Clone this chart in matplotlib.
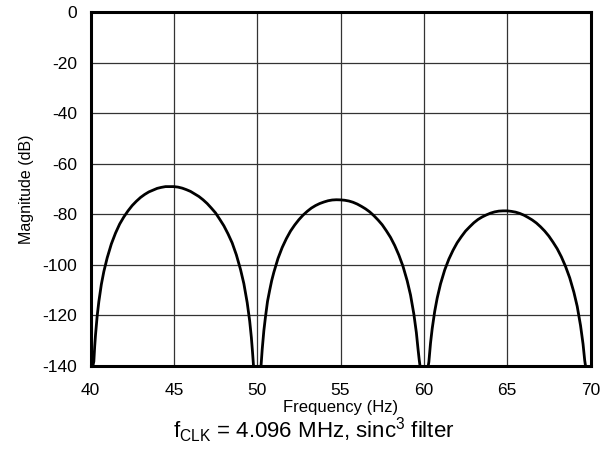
import matplotlib
matplotlib.use("Agg")
import matplotlib.pyplot as plt

plt.rcParams['font.family'] = ['Liberation Sans', 'DejaVu Sans']
plt.rcParams['mathtext.fontset'] = 'custom'
plt.rcParams['mathtext.rm'] = 'Liberation Sans'

# Lobe 1 (40-50 Hz)
lobe1_f = [40.14, 40.2, 40.25, 40.3, 40.4, 40.5, 40.65, 40.8, 41.0, 41.25, 41.5, 41.75,
           42.0, 42.25, 42.5, 42.75, 43.0, 43.25, 43.5, 43.75, 44.0, 44.25, 44.5, 44.75,
           45.0, 45.25, 45.5, 45.75, 46.0, 46.25, 46.5, 46.75, 47.0, 47.25, 47.5, 47.75,
           48.0, 48.25, 48.5, 48.75, 49.0, 49.2, 49.4, 49.55, 49.65, 49.72, 49.78]
lobe1_db = [-140, -138.2, -132.3, -127.7, -120.2, -114.5, -107.7, -102.6, -97.2, -91.7, -87.4, -83.8,
            -81.0, -78.6, -76.5, -74.8, -73.3, -72.1, -71.1, -70.4, -69.7, -69.3, -69.0, -69.0,
            -69.0, -69.2, -69.6, -70.2, -70.9, -71.9, -72.9, -74.2, -75.7, -77.5, -79.4, -81.9,
            -84.5, -87.7, -91.3, -96.0, -101.8, -107.4, -114.9, -122.2, -128.7, -134.5, -140]

# Lobe 2 (50-60 Hz)
lobe2_f = [50.23, 50.25, 50.3, 50.4, 50.5, 50.62, 50.75, 50.87, 51.0, 51.25, 51.5, 51.75,
           52.0, 52.25, 52.5, 52.75, 53.0, 53.25, 53.5, 53.75, 54.0, 54.25, 54.5, 54.75,
           55.0, 55.25, 55.5, 55.75, 56.0, 56.25, 56.5, 56.75, 57.0, 57.25, 57.5, 57.75,
           58.0, 58.25, 58.5, 58.75, 59.0, 59.2, 59.4, 59.55, 59.65, 59.72, 59.77]
lobe2_db = [-140, -138.2, -133.5, -126.0, -120.4, -114.4, -110.0, -106.2, -102.9, -97.4, -93.1, -89.6,
            -86.6, -84.2, -82.1, -80.3, -78.8, -77.5, -76.5, -75.7, -75.1, -74.6, -74.3, -74.2,
            -74.25, -74.4, -74.7, -75.2, -75.9, -76.8, -77.8, -79.0, -80.5, -82.2, -84.1, -86.5,
            -89.1, -92.3, -96.1, -100.6, -106.3, -111.9, -119.5, -126.8, -133.3, -137.5, -140]

# Lobe 3 (60-70 Hz)
lobe3_f = [60.26, 60.3, 60.4, 60.5, 60.65, 60.8, 61.0, 61.25, 61.5, 61.75,
           62.0, 62.25, 62.5, 62.75, 63.0, 63.25, 63.5, 63.75, 64.0, 64.25, 64.5, 64.75,
           65.0, 65.25, 65.5, 65.75, 66.0, 66.25, 66.5, 66.75, 67.0, 67.25, 67.5, 67.75,
           68.0, 68.25, 68.5, 68.75, 69.0, 69.2, 69.4, 69.55, 69.65, 69.7]
lobe3_db = [-140, -138.4, -130.9, -125.2, -118.4, -113.1, -107.5, -102.0, -97.7, -94.2,
            -91.2, -88.8, -86.6, -84.9, -83.3, -82.0, -81.0, -80.2, -79.5, -79.0, -78.7, -78.6,
            -78.6, -78.8, -79.1, -79.6, -80.3, -81.2, -82.2, -83.4, -84.9, -86.6, -88.6, -91.0,
            -93.6, -96.8, -100.6, -105.1, -110.8, -116.4, -124.0, -131.3, -137.8, -140]

x_ticks = [40, 45, 50, 55, 60, 65, 70]
y_ticks = [0, -20, -40, -60, -80, -100, -120, -140]

fig = plt.figure(figsize=(6.01, 4.5), dpi=100)
ax = fig.add_axes([0.1506, 0.1867, 0.832, 0.786])

for f, d in [(lobe1_f, lobe1_db), (lobe2_f, lobe2_db), (lobe3_f, lobe3_db)]:
    ax.plot(f, d, color='black', linewidth=2.0, solid_capstyle='butt',
            solid_joinstyle='round', zorder=3, clip_on=True)

ax.set_xlim(40, 70)
ax.set_ylim(-140, 0)
ax.set_xticks(x_ticks)
ax.set_yticks(y_ticks)
ax.set_xticklabels([str(t) for t in x_ticks])
ax.set_yticklabels([str(t) for t in y_ticks])
ax.tick_params(length=0, labelsize=12.5, colors='black')
ax.tick_params(axis='x', pad=12)
ax.tick_params(axis='y', pad=9.5)
ax.grid(True, color='#333333', linewidth=0.9)
for s in ax.spines.values():
    s.set_linewidth(2.2)
    s.set_color('black')
    s.set_zorder(4)

ax.set_xlabel('Frequency (Hz)', fontsize=12, labelpad=2)
ax.set_ylabel('Magnitude (dB)', fontsize=11.5)
ax.yaxis.set_label_coords(-0.113, 0.5)
fig.text(0.522, 0.027, r'f$_{\mathregular{CLK}}$ = 4.096 MHz, sinc$^{\mathregular{3}}$ filter',
         ha='center', va='baseline', fontsize=16)

fig.savefig('out.png', dpi=100)
